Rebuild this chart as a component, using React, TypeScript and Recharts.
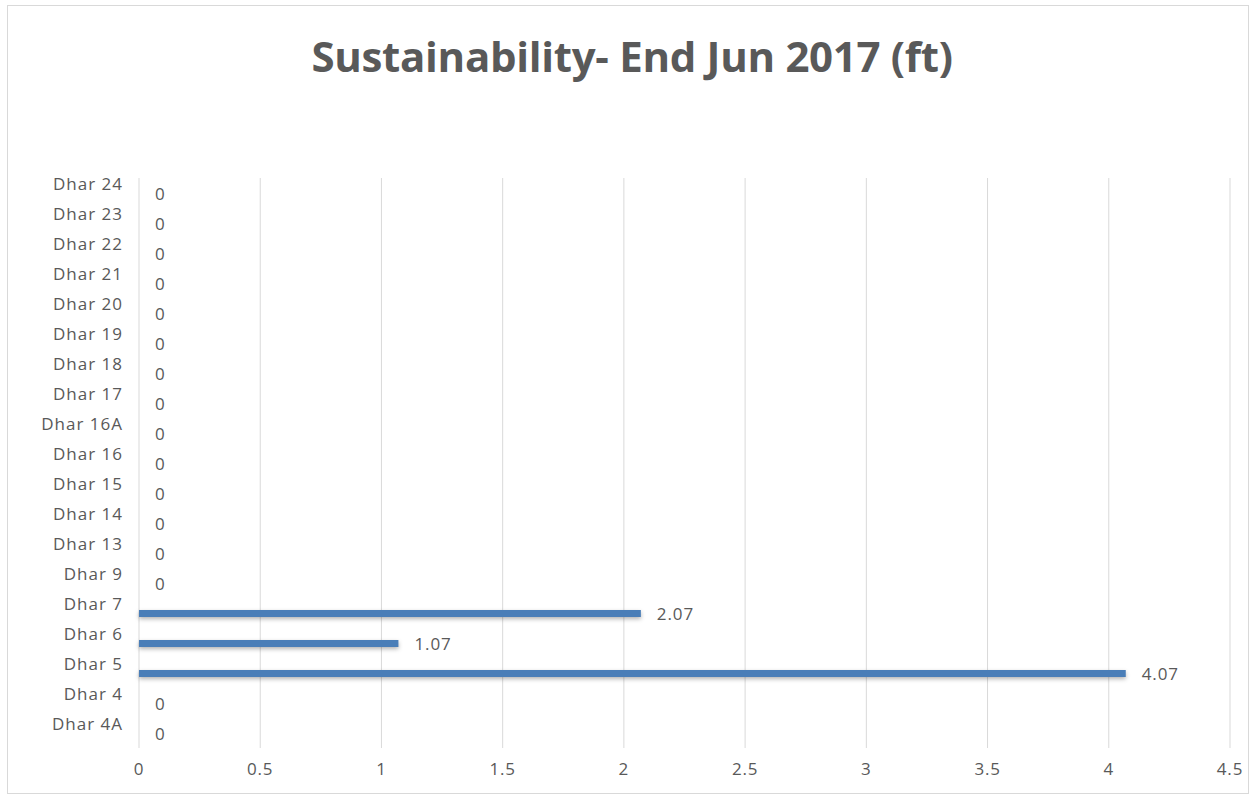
import { BarChart, Bar, XAxis, YAxis, CartesianGrid, LabelList } from 'recharts'

// categories listed top to bottom, as in the chart
const categories = [
  'Dhar 24', 'Dhar 23', 'Dhar 22', 'Dhar 21', 'Dhar 20', 'Dhar 19', 'Dhar 18',
  'Dhar 17', 'Dhar 16A', 'Dhar 16', 'Dhar 15', 'Dhar 14', 'Dhar 13', 'Dhar 9',
  'Dhar 7', 'Dhar 6', 'Dhar 5', 'Dhar 4', 'Dhar 4A',
]
const values = [0, 0, 0, 0, 0, 0, 0, 0, 0, 0, 0, 0, 0, 0, 2.07, 1.07, 4.07, 0, 0]
const xTicks = [0, 0.5, 1, 1.5, 2, 2.5, 3, 3.5, 4, 4.5]

const data = categories.map((name, i) => ({ name, value: values[i] }))

const FONT = '"Open Sans", "Noto Sans", sans-serif'
const TEXT = '#595959'

const ShadowBar = (props: any) => {
  const { x, y, width, height } = props
  if (!width || width <= 0) return null
  return (
    <rect
      x={x}
      y={y}
      width={width}
      height={height}
      fill="#4a7eb8"
      style={{ filter: 'drop-shadow(0px 2px 2px rgba(0,0,0,0.3))' }}
    />
  )
}

const CategoryTick = (props: any) => {
  const { x, y, payload } = props
  return (
    <text
      x={x}
      y={y - 9}
      dy={6}
      textAnchor="end"
      fill={TEXT}
      fontSize={17}
      letterSpacing={1}
      fontFamily={FONT}
    >
      {payload.value}
    </text>
  )
}

export default function App() {
  return (
    <div style={{ position: 'absolute', left: 0, top: 0, width: 1257, height: 801, background: '#fff' }}>
      <div
        style={{
          position: 'absolute',
          left: 7,
          top: 5,
          width: 1242,
          height: 789,
          border: '1px solid #d9d9d9',
          boxSizing: 'border-box',
        }}
      />
      <div
        style={{
          position: 'absolute',
          left: 0,
          top: 27,
          width: 1264,
          textAlign: 'center',
          fontFamily: FONT,
          fontWeight: 700,
          fontSize: 42,
          color: TEXT,
          letterSpacing: -0.3,
        }}
      >
        Sustainability- End Jun 2017 (ft)
      </div>
      <div style={{ position: 'absolute', left: 0, top: 0 }}>
        <BarChart
          layout="vertical"
          width={1257}
          height={801}
          data={data}
          margin={{ top: 178, right: 27, bottom: 0, left: 0 }}
          barSize={7}
        >
          <CartesianGrid horizontal={false} stroke="#d9d9d9" />
          <XAxis
            type="number"
            domain={[0, 4.5]}
            ticks={xTicks}
            axisLine={false}
            tickLine={false}
            height={53}
            tickMargin={9}
            tick={{ fill: TEXT, fontSize: 17, fontFamily: FONT, letterSpacing: 0.8 }}
          />
          <YAxis
            type="category"
            dataKey="name"
            width={139}
            axisLine={false}
            tickLine={false}
            tick={<CategoryTick />}
            tickMargin={10}
            interval={0}
          />
          <Bar dataKey="value" shape={<ShadowBar />} isAnimationActive={false}>
            <LabelList
              dataKey="value"
              position="right"
              offset={16}
              fill={TEXT}
              fontSize={17}
              letterSpacing={0.9}
              fontFamily={FONT}
            />
          </Bar>
        </BarChart>
      </div>
    </div>
  )
}
